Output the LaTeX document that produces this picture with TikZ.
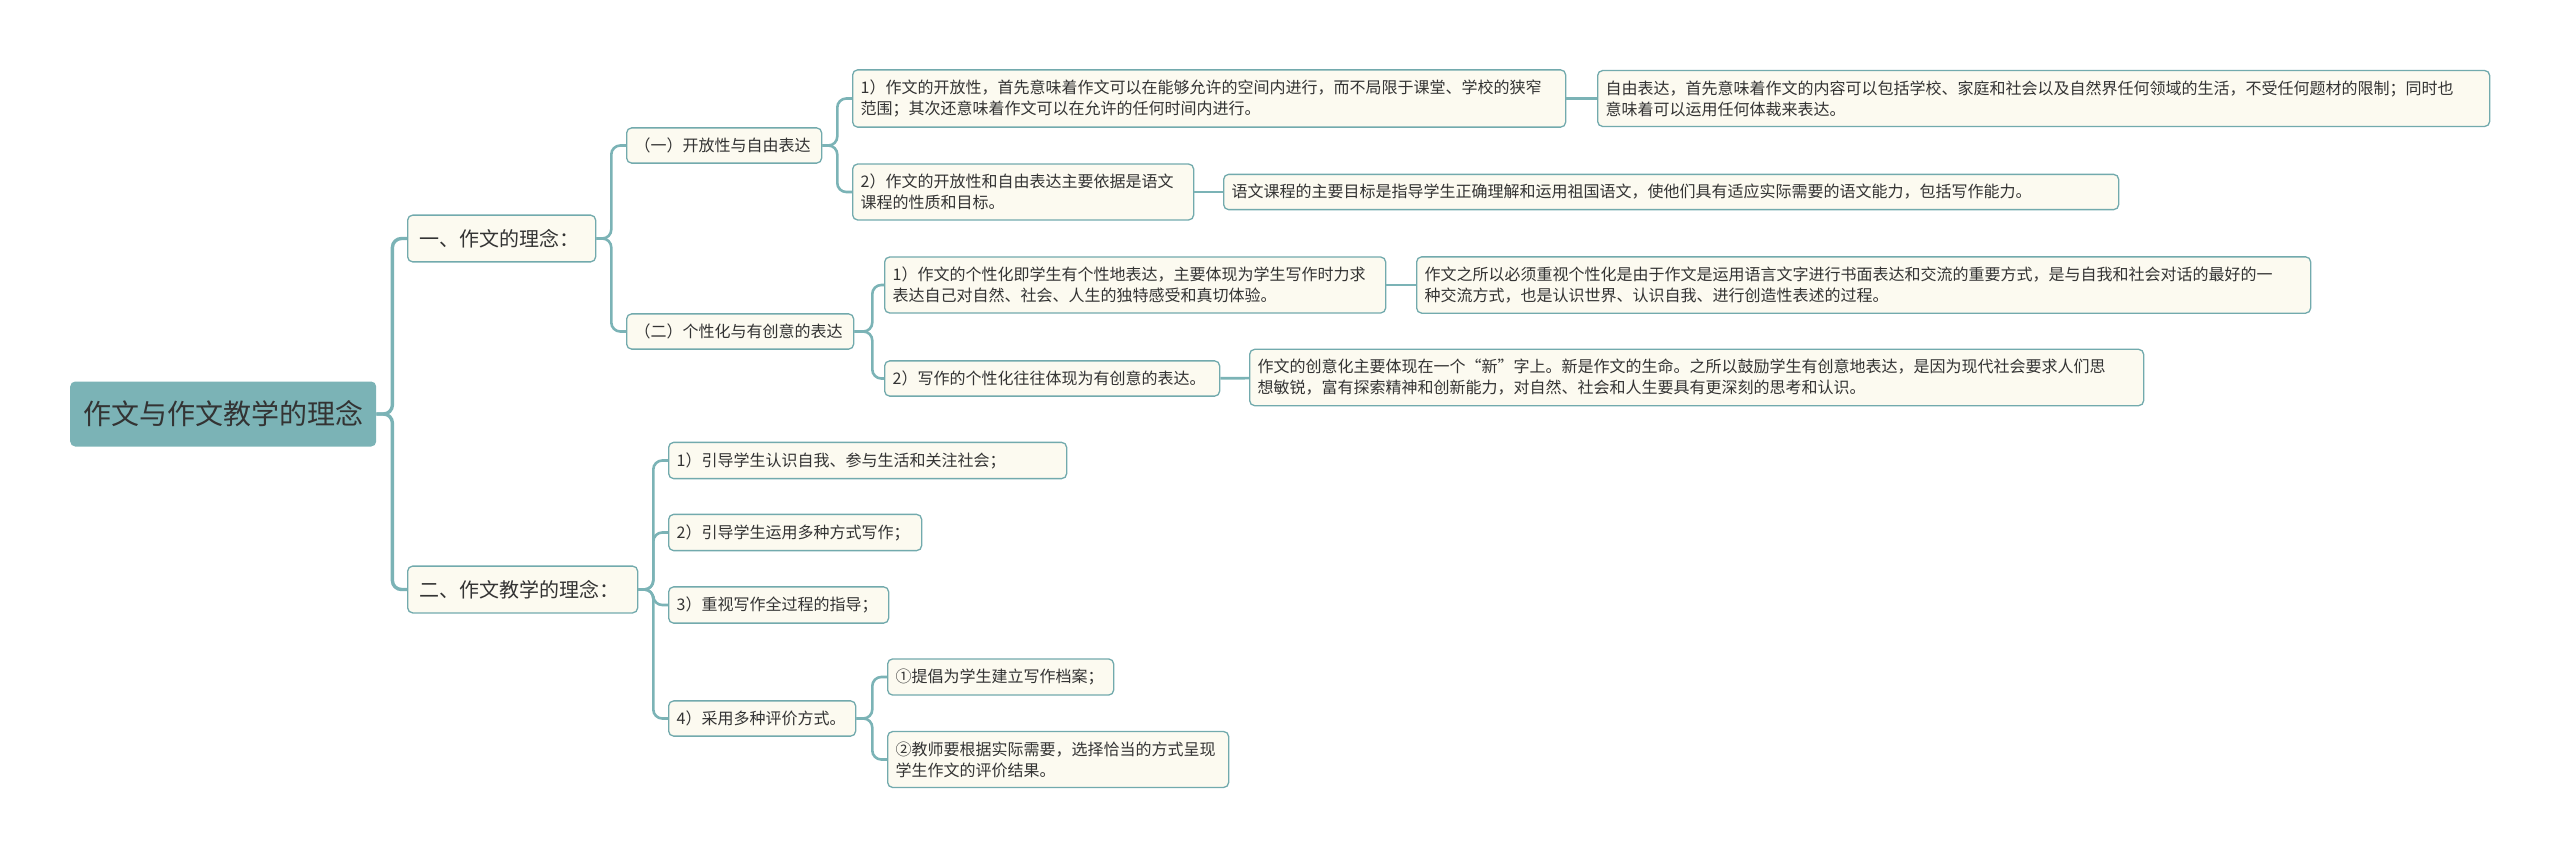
\documentclass[tikz,border=0pt]{standalone}
\usepackage{fontspec}
\setmainfont{Noto Sans CJK SC}
\usepackage{tikz}

\definecolor{mapteal}{HTML}{7BB3B6}
\definecolor{mapedge}{HTML}{72AAAD}
\definecolor{mapcream}{HTML}{FCFAF0}
\definecolor{mapink}{HTML}{333333}

\tikzset{
  topic/.style={draw=mapedge, line width=1.3pt, fill=mapcream, rounded corners=5pt,
    anchor=west, align=left, inner xsep=8pt, inner ysep=10pt, text=mapink,
    font=\fontsize{16}{21}\selectfont},
  head/.style={topic, inner xsep=12pt, inner ysep=14pt, font=\fontsize{20}{24}\selectfont},
  link/.style={draw=mapteal, line width=2.6pt, rounded corners=9pt},
}

\begin{document}
\begin{tikzpicture}[x=1pt,y=-1pt]
    \useasboundingbox (0,0) rectangle (2560,859);
    % centre
    \node[fill=mapteal, rounded corners=5pt, anchor=west, minimum width=306pt, minimum height=65pt,
      text=mapink, font=\fontsize{28}{32}\selectfont] (root) at (70,414) {作文与作文教学的理念};
    % first level
    \node[head, text width=164pt] (one) at (407,238.5) {一、作文的理念：};
    \node[head, text width=206pt] (two) at (407,589.5) {二、作文教学的理念：};
    % second level
    \node[topic, text width=179pt] (open) at (626,145.5) {（一）开放性与自由表达};
    \node[topic, text width=211pt] (own) at (626,331.5) {（二）个性化与有创意的表达};
    % open branch
    \node[topic, text width=697pt] (open1) at (852,98.5)
      {1）作文的开放性，首先意味着作文可以在能够允许的空间内进行，而不局限于课堂、学校的狭窄\\范围；其次还意味着作文可以在允许的任何时间内进行。};
    \node[topic, text width=876pt] (free) at (1597,98.5)
      {自由表达，首先意味着作文的内容可以包括学校、家庭和社会以及自然界任何领域的生活，不受任何题材的限制；同时也\\意味着可以运用任何体裁来表达。};
    \node[topic, text width=325pt] (open2) at (852,192)
      {2）作文的开放性和自由表达主要依据是语文\\课程的性质和目标。};
    \node[topic, text width=879pt] (goal) at (1223,192)
      {语文课程的主要目标是指导学生正确理解和运用祖国语文，使他们具有适应实际需要的语文能力，包括写作能力。};
    % own branch
    \node[topic, text width=485pt] (own1) at (884,285)
      {1）作文的个性化即学生有个性地表达，主要体现为学生写作时力求\\表达自己对自然、社会、人生的独特感受和真切体验。};
    \node[topic, text width=878pt] (why) at (1416,285)
      {作文之所以必须重视个性化是由于作文是运用语言文字进行书面表达和交流的重要方式，是与自我和社会对话的最好的一\\种交流方式，也是认识世界、认识自我、进行创造性表述的过程。};
    \node[topic, text width=319pt] (own2) at (884,378.5) {2）写作的个性化往往体现为有创意的表达。};
    \node[topic, text width=878pt] (new) at (1249,377.5)
      {作文的创意化主要体现在一个“新”字上。新是作文的生命。之所以鼓励学生有创意地表达，是因为现代社会要求人们思\\想敏锐，富有探索精神和创新能力，对自然、社会和人生要具有更深刻的思考和认识。};
    % teaching branch
    \node[topic, text width=382pt] (t1) at (668,460.5) {1）引导学生认识自我、参与生活和关注社会；};
    \node[topic, text width=237pt] (t2) at (668,532.5) {2）引导学生运用多种方式写作；};
    \node[topic, text width=204pt] (t3) at (668,605) {3）重视写作全过程的指导；};
    \node[topic, text width=171pt] (t4) at (668,718.5) {4）采用多种评价方式。};
    \node[topic, text width=210pt] (t4a) at (887,677) {①提倡为学生建立写作档案；};
    \node[topic, text width=325pt] (t4b) at (887,759.5)
      {②教师要根据实际需要，选择恰当的方式呈现\\学生作文的评价结果。};

    % connectors
    \foreach \X in {one,two}
    {\draw[link, line width=3.4pt] (root.east) -- ++(16,0) |- (\X.west);}
    \foreach \X in {open,own}
    {\draw[link] (one.east) -- ++(15,0) |- (\X.west);}
    \foreach \X in {open1,open2}
    {\draw[link] (open.east) -- ++(15,0) |- (\X.west);}
    \foreach \X in {own1,own2}
    {\draw[link] (own.east) -- ++(18,0) |- (\X.west);}
    \foreach \X in {t1,t2,t3,t4}
    {\draw[link] (two.east) -- ++(15,0) |- (\X.west);}
    \foreach \X in {t4a,t4b}
    {\draw[link] (t4.east) -- ++(16,0) |- (\X.west);}
    \draw[link] (open1) -- (free);
    \draw[link] (open2) -- (goal);
    \draw[link] (own1) -- (why);
    \draw[link] (own2) -- (new);
\end{tikzpicture}
\end{document}
